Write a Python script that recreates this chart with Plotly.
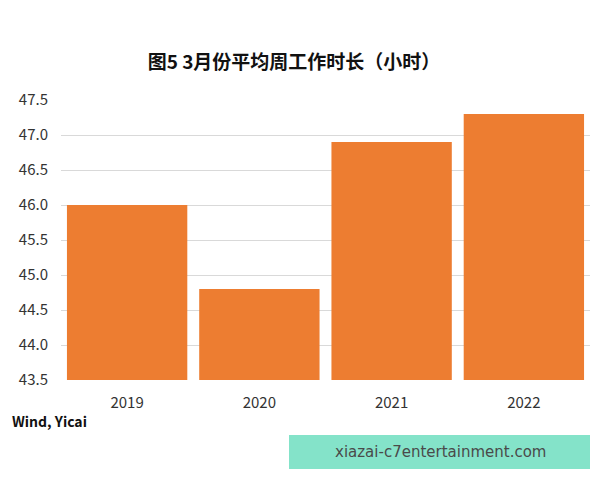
import plotly.graph_objects as go

years = ["2019", "2020", "2021", "2022"]
hours = [46.0, 44.8, 46.9, 47.3]
y_ticks = [43.5, 44.0, 44.5, 45.0, 45.5, 46.0, 46.5, 47.0, 47.5]
y_tick_labels = [f"{v:.1f}" for v in y_ticks]

W, H = 600, 480
L, R, T, B = 61, 10, 100, 100

fig = go.Figure(go.Bar(x=years, y=hours, marker=dict(color="#ED7D31", line=dict(width=0))))

fig.update_layout(
    width=W, height=H,
    margin=dict(l=L, r=R, t=T, b=B),
    paper_bgcolor="white", plot_bgcolor="white",
    bargap=0.09,
    showlegend=False,
    font=dict(family="Noto Sans CJK SC, Noto Sans, sans-serif", color="#333333"),
    title=dict(text="<b>图5 3月份平均周工作时长（小时）</b>", x=0.49, xanchor="center",
               y=1 - 62 / H, yanchor="middle", font=dict(size=19, color="#111111")),
    xaxis=dict(showgrid=False, showline=False, ticks="", tickfont=dict(size=15, color="#333333"),
               ticklabelstandoff=12),
    yaxis=dict(range=[43.5, 47.5], tickvals=y_ticks, ticktext=y_tick_labels,
               showgrid=True, gridcolor="#D9D9D9", gridwidth=1, zeroline=False, showline=False,
               tickfont=dict(size=15, color="#333333"), ticklabelstandoff=12),
)

fig.add_annotation(text="<b>Wind, Yicai</b>", xref="paper", yref="paper",
                   x=-(L - 10) / (W - L - R), xanchor="left",
                   y=-(421 - (H - B)) / (H - T - B), yanchor="middle",
                   showarrow=False, font=dict(size=14, color="#111111"))

fig.add_shape(type="rect", xref="paper", yref="paper",
              x0=(289 - L) / (W - L - R), x1=(590 - L) / (W - L - R),
              y0=-(469 - (H - B)) / (H - T - B), y1=-(435 - (H - B)) / (H - T - B),
              fillcolor="#84E3C9", line=dict(width=0), layer="above")
fig.add_annotation(text="xiazai-c7entertainment.com", xref="paper", yref="paper",
                   x=(440 - L) / (W - L - R), xanchor="center",
                   y=-(452 - (H - B)) / (H - T - B), yanchor="middle",
                   showarrow=False, font=dict(size=15, color="#4a4a4a", family="DejaVu Sans"))

fig.write_html("out.html", config={"displayModeBar": False},
               post_script="document.body.style.margin='0';")
